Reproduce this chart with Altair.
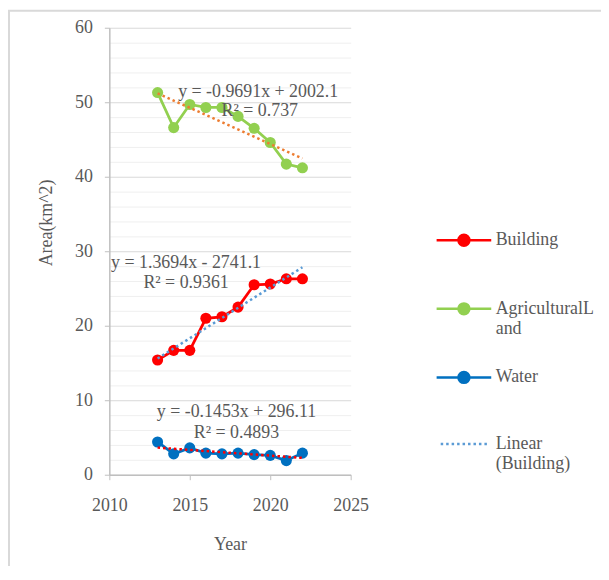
import altair as alt
import pandas as pd

# ---- data ----
years = [2013, 2014, 2015, 2016, 2017, 2018, 2019, 2020, 2021, 2022]
building = [15.4, 16.7, 16.7, 21.0, 21.2, 22.5, 25.5, 25.6, 26.3, 26.3]
agricultural = [51.3, 46.6, 49.7, 49.3, 49.3, 48.1, 46.5, 44.6, 41.7, 41.2]
water = [4.4, 2.8, 3.6, 2.9, 2.8, 2.9, 2.7, 2.6, 1.9, 2.9]

series_names = ["Building", "AgriculturalLand", "Water"]
series_colors = ["#FF0000", "#92D050", "#0070C0"]
trend_colors = ["#5B9BD5", "#ED7D31", "#FF0000"]
trend_names = ["Linear (Building)", "Linear (AgriculturalLand)", "Linear (Water)"]

eq_texts = ["y = -0.9691x + 2002.1", "R\u00b2 = 0.737",
            "y = 1.3694x - 2741.1", "R\u00b2 = 0.9361",
            "y = -0.1453x + 296.11", "R\u00b2 = 0.4893"]
eq_years = [2019.25, 2019.35, 2014.77, 2014.77, 2017.9, 2017.9]
eq_areas = [51.37, 48.79, 28.42, 25.75, 8.41, 5.66]

x_ticks = [2010, 2015, 2020, 2025]
y_ticks = list(range(0, 61, 2))

rows = []
for name, vals in zip(series_names, [building, agricultural, water]):
    for yr, v in zip(years, vals):
        rows.append({"Year": yr, "Area": v, "Series": name})
df = pd.DataFrame(rows)
eq_df = pd.DataFrame({"Year": eq_years, "Area": eq_areas, "text": eq_texts})

FONT = "Liberation Serif"
GREY = "#595959"

x_enc = alt.X("Year:Q", scale=alt.Scale(domain=[2010, 2025], nice=False, zero=False),
              axis=alt.Axis(values=x_ticks, format="d", title="Year", grid=False,
                            tickSize=5, labelPadding=17, titlePadding=21,
                            labelFlush=False))
y_enc = alt.Y("Area:Q", scale=alt.Scale(domain=[0, 60], nice=False),
              axis=alt.Axis(values=y_ticks, tickCount=60, labelOverlap=False,
                            labelExpr="datum.value % 10 === 0 ? datum.label : ''",
                            gridColor={"condition": {"test": "datum.value % 10 === 0", "value": "#D9D9D9"},
                                       "value": "#EFEFEF"},
                            tickOpacity={"condition": {"test": "datum.value % 10 === 0", "value": 1},
                                         "value": 0},
                            title="Area(km^2)", tickSize=5, labelPadding=12,
                            titlePadding=19, titleY=196))

sym_path = "M-1,0H1M-0.2,0A0.2,0.2,0,1,0,0.2,0A0.2,0.2,0,1,0,-0.2,0Z"
series_legend = alt.Legend(
    title=None, orient="none", legendX=328, legendY=185, padding=0,
    symbolType=sym_path, symbolSize=3025, symbolStrokeWidth=2.5, rowPadding=11,
    symbolOpacity=1,
    labelFont=FONT, labelFontSize=18, labelColor=GREY, labelOffset=3, labelLimit=250,
    labelExpr=("datum.label === 'AgriculturalLand' ? ['AgriculturalL', 'and'] : "
               "[datum.label, ' ']"),
)
trend_legend = alt.Legend(
    title=None, orient="none", legendX=328, legendY=390, padding=0,
    values=["Linear (Building)"],
    symbolType="M-0.85,0H0.85", symbolSize=3025, symbolStrokeWidth=2.5,
    symbolStrokeColor="#5B9BD5", symbolDash=[2, 3], symbolOpacity=1,
    labelFont=FONT, labelFontSize=18, labelColor=GREY, labelOffset=3, labelLimit=250,
    labelExpr="datum.label === 'Linear (Building)' ? ['Linear', '(Building)'] : datum.label",
)

color_enc = alt.Color("Series:N", scale=alt.Scale(domain=series_names, range=series_colors),
                      legend=series_legend)

base = alt.Chart(df)

lines = base.mark_line(strokeWidth=2.75).encode(x=x_enc, y=y_enc, color=color_enc)
points = base.mark_point(filled=True, size=125, opacity=1).encode(x=x_enc, y=y_enc, color=color_enc)

color_expr = ""
name_expr = ""
for n, c, t in zip(series_names[:-1], trend_colors[:-1], trend_names[:-1]):
    color_expr += f"datum.Series === '{n}' ? '{c}' : "
    name_expr += f"datum.Series === '{n}' ? '{t}' : "
color_expr += f"'{trend_colors[-1]}'"
name_expr += f"'{trend_names[-1]}'"

trends = (base.transform_regression("Year", "Area", groupby=["Series"])
          .transform_calculate(tc=color_expr, trend=name_expr)
          .mark_line(strokeWidth=2.5)
          .encode(x=x_enc, y=y_enc, color=alt.Color("tc:N", scale=None),
                  strokeDash=alt.StrokeDash("trend:N",
                                            scale=alt.Scale(domain=trend_names,
                                                            range=[[2.5, 3], [2.5, 3], [2.5, 3]]),
                                            legend=trend_legend)))

texts = alt.Chart(eq_df).mark_text(font=FONT, fontSize=18, color=GREY).encode(
    x=alt.X("Year:Q"), y=alt.Y("Area:Q"), text="text:N")

frame = alt.Chart(alt.Data(values=[{}])).mark_rect(
    filled=False, stroke="#D9D9D9", strokeWidth=2).encode(
    x=alt.value(-101), x2=alt.value(700), y=alt.value(-17), y2=alt.value(700))

chart = alt.layer(frame, lines, points, trends, texts).properties(
    width=243, height=450,
    padding={"left": 102, "top": 18, "right": 252, "bottom": 90},
    autosize=alt.AutoSizeParams(type="none"),
).configure_view(stroke=None).configure_axis(
    labelFont=FONT, labelFontSize=18, labelColor=GREY,
    titleFont=FONT, titleFontSize=18, titleFontWeight="normal", titleColor=GREY,
    domainColor="#BFBFBF", tickColor="#BFBFBF", domainWidth=1.5,
)

chart.save("out.html", embed_options={"renderer": "svg", "actions": False})
